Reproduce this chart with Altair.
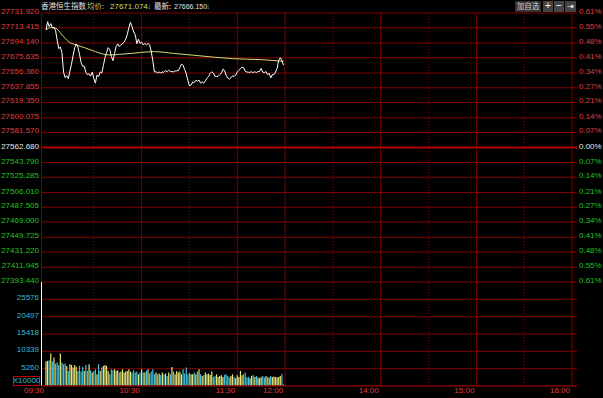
import altair as alt
import pandas as pd

# ---------------- data ----------------
BASE = 27562.68  # previous close (0.00%)

price_tick_labels = ["27731.920", "27713.415", "27694.140", "27675.635", "27656.360",
                     "27637.855", "27619.350", "27600.075", "27581.570", "27562.680",
                     "27543.790", "27525.285", "27506.010", "27487.505", "27469.000",
                     "27449.725", "27431.220", "27411.945", "27393.440"]
pct_tick_labels = ["0.61%", "0.55%", "0.48%", "0.41%", "0.34%", "0.27%", "0.21%", "0.14%",
                   "0.07%", "0.00%", "0.07%", "0.14%", "0.21%", "0.27%", "0.34%", "0.41%",
                   "0.48%", "0.55%", "0.61%"]
vol_tick_labels = ["25576", "20497", "15418", "10339", "5260"]
vol_axis_min, vol_axis_max = 181, 30655
vol_unit_label = "X10000"
time_tick_labels = ["09:30", "10:30", "11:30", "12:00", "14:00", "15:00", "16:00"]
half_hour_labels = ["10:00", "11:00", "13:30", "14:30", "15:30"]

title_name = "香港恒生指数"
avg_caption, avg_now = "均价:", "27671.074"
last_caption, last_now = "最新:", "27666.150"

# minutes after 09:30 (one per minute, morning session)
price_minute = list(range(150))
price_values = [
    27710.6, 27721.0, 27714.7, 27718.5, 27713.4, 27714.0, 27709.7, 27697.7, 27687.1, 27689.0,
    27682.0, 27657.5, 27650.6, 27653.1, 27649.4, 27658.8, 27667.6, 27678.6, 27688.3, 27693.0,
    27689.2, 27680.2, 27669.5, 27664.9, 27665.0, 27657.4, 27654.2, 27655.6, 27652.5, 27657.5,
    27649.7, 27643.7, 27654.0, 27651.9, 27657.8, 27656.3, 27665.7, 27675.8, 27682.0, 27688.3,
    27686.2, 27677.4, 27672.0, 27680.8, 27689.8, 27693.0, 27689.8, 27692.1, 27693.3, 27695.2,
    27699.0, 27705.0, 27713.7, 27720.1, 27714.7, 27708.0, 27704.6, 27693.3, 27699.0, 27693.7,
    27695.2, 27691.8, 27693.7, 27691.8, 27693.7, 27691.8, 27683.9, 27672.0, 27657.8, 27658.0,
    27656.4, 27657.7, 27656.4, 27657.7, 27657.2, 27659.4, 27658.2, 27660.0, 27658.2, 27658.3,
    27657.8, 27659.0, 27659.2, 27659.2, 27663.4, 27667.6, 27666.1, 27660.7, 27655.6, 27646.8,
    27640.3, 27641.2, 27645.1, 27644.5, 27647.2, 27646.0, 27647.5, 27643.6, 27645.4, 27643.6,
    27646.6, 27649.8, 27651.9, 27656.0, 27658.0, 27656.1, 27652.1, 27652.1, 27652.2, 27654.4,
    27656.1, 27661.2, 27659.5, 27653.7, 27650.1, 27648.6, 27650.4, 27652.8, 27651.9, 27653.9,
    27657.7, 27659.7, 27661.9, 27663.8, 27663.0, 27658.5, 27657.7, 27657.3, 27657.3, 27658.0,
    27656.9, 27658.0, 27657.0, 27658.2, 27658.2, 27662.1, 27657.5, 27656.9, 27658.2, 27654.4,
    27656.1, 27650.2, 27654.4, 27654.4, 27657.7, 27662.3, 27672.6, 27675.7, 27672.0, 27666.2]

avg_minute = [0, 3, 6, 10, 14, 19, 25, 31, 36, 40, 46, 54, 60, 68, 80, 92, 105, 117, 135, 149]
avg_values = [27710.6, 27713.4, 27712.8, 27704.6, 27695.9, 27691.7, 27687.7, 27683.3, 27680.1,
              27679.1, 27679.9, 27681.1, 27682.4, 27683.3, 27681.1, 27678.9, 27676.4, 27674.5,
              27673.2, 27671.1]

volume_values = [
    7340, 7540, 7730, 9690, 7340, 8520, 6750, 7050, 6360, 9690,
    7050, 6560, 6750, 6070, 4600, 6560, 6360, 5580, 6360, 5770,
    4600, 6070, 4400, 5770, 4600, 6360, 4600, 6560, 4800, 4110, 4600,
    5090, 3620, 6560, 4600, 5580, 6070, 6360, 6070, 4600, 3620,
    5090, 4800, 5090, 4600, 4800, 4110, 4400, 5090, 4110, 4400,
    4600, 5090, 4400, 4110, 4800, 4110, 4400, 3620, 4110, 5090, 4110,
    4110, 4600, 5090, 3820, 4400, 5090, 3620, 4110, 3620, 3820,
    3430, 4110, 3620, 3820, 3130, 4110, 3620, 5770, 4400, 3620,
    4600, 4110, 4400, 3620, 5090, 3820, 5580, 3620, 4110, 3620, 3620,
    4110, 3620, 4400, 5090, 3620, 3130, 3430, 4110, 3620, 3820,
    3430, 4400, 2840, 3130, 3620, 2840, 3130, 3330, 2840, 3430,
    3620, 3130, 2640, 3130, 3620, 2840, 2450, 3330, 2840, 4600, 3330,
    3620, 4110, 2640, 2840, 2450, 3130, 3430, 2840, 3130, 2640,
    2450, 2840, 3130, 2640, 3130, 2840, 2640, 3130, 2840, 2940, 2840,
    2640, 2840, 3130, 3620, 690]


def session_minutes(t):
    h, m = map(int, t.split(":"))
    v = h * 60 + m - (9 * 60 + 30)
    if v > 150:          # lunch break 12:00-13:00 removed
        v -= 60
    return v


# ---------------- styling ----------------
W, H1, H2 = 536, 269, 104
H = H1 + H2
GRID = "#800000"
CENTER = "#b00000"
RED_TXT = "#e83a3a"
GREEN_TXT = "#22c422"
WHITE_TXT = "#e8e8e8"
CYAN_TXT = "#3ab8d0"
YEL = "#e6e67a"
CYAN = "#40c4d8"
FONT = "Liberation Sans"
CJK = "Noto Sans CJK SC"

xs = alt.Scale(domain=[0, 330], nice=False, zero=False)
ys = alt.Scale(domain=[27393.44, 27731.92], range=[H1, 0], nice=False, zero=False)
vs = alt.Scale(domain=[vol_axis_min, vol_axis_max], range=[H, H1], nice=False, zero=False)

levels = pd.DataFrame({"label": price_tick_labels, "pct": pct_tick_labels})
levels["level"] = levels["label"].astype(float)

hours = pd.DataFrame({"t": time_tick_labels})
hours["m"] = hours["t"].map(session_minutes)
halves = pd.DataFrame({"t": half_hour_labels})
halves["m"] = halves["t"].map(session_minutes)

price_df = pd.DataFrame({"m": price_minute, "p": price_values})
avg_df = pd.DataFrame({"m": avg_minute, "p": avg_values})
vol_df = pd.DataFrame({"m": price_minute, "v": volume_values})
vol_df["dir"] = ["up" if i == 0 or price_values[i] >= price_values[i - 1] else "down"
                 for i in range(len(price_values))]
vticks = pd.DataFrame({"label": vol_tick_labels})
vticks["v"] = vticks["label"].astype(float)

color_expr = (f"datum.level > {BASE} + 0.01 ? '{RED_TXT}' : "
              f"(datum.level < {BASE} - 0.01 ? '{GREEN_TXT}' : '{WHITE_TXT}')")


def note(text, x, y, color, font=FONT, size=8, align="left"):
    return alt.Chart(pd.DataFrame({"t": [text]})).mark_text(
        align=align, baseline="middle", font=font, fontSize=size, color=color
    ).encode(x=alt.value(x), y=alt.value(y), text="t:N")


def box(x1, x2, y1, y2, fill):
    return alt.Chart(pd.DataFrame({"a": [0]})).mark_rect(color=fill).encode(
        x=alt.value(x1), x2=alt.value(x2), y=alt.value(y1), y2=alt.value(y2))


def vrule(x1, y1, y2, color, width=1):
    return alt.Chart(pd.DataFrame({"a": [0]})).mark_rule(color=color, strokeWidth=width).encode(
        x=alt.value(x1), y=alt.value(y1), y2=alt.value(y2))


# shared vertical grid (both panes)
vsolid = alt.Chart(hours).transform_filter("datum.m > 0").mark_rule(
    color=GRID, strokeWidth=1).encode(x=alt.X("m:Q", scale=xs, axis=None))
vdot = alt.Chart(halves).mark_rule(color=GRID, strokeWidth=1, strokeDash=[1, 2]).encode(
    x=alt.X("m:Q", scale=xs, axis=None))

# ---------------- price pane ----------------
hgrid = alt.Chart(levels).mark_rule(color=GRID, strokeWidth=1).encode(
    y=alt.Y("level:Q", scale=ys, axis=None))
center = alt.Chart(levels).transform_filter(
    f"abs(datum.level - {BASE}) < 0.01").mark_rule(color=CENTER, strokeWidth=2).encode(
    y=alt.Y("level:Q", scale=ys, axis=None))
avg_line = alt.Chart(avg_df).mark_line(color="#d8d870", strokeWidth=1, interpolate="monotone").encode(
    x=alt.X("m:Q", scale=xs, axis=None), y=alt.Y("p:Q", scale=ys, axis=None))
price_line = alt.Chart(price_df).mark_line(color="#ffffff", strokeWidth=1).encode(
    x=alt.X("m:Q", scale=xs, axis=None), y=alt.Y("p:Q", scale=ys, axis=None))
left_lbl = alt.Chart(levels).transform_calculate(col=color_expr).mark_text(
    align="right", baseline="middle", dx=-2, dy=-1, font=FONT, fontSize=8).encode(
    y=alt.Y("level:Q", scale=ys, axis=None), x=alt.value(0), text="label:N",
    color=alt.Color("col:N", scale=None))
right_lbl = alt.Chart(levels).transform_calculate(col=color_expr).mark_text(
    align="left", baseline="middle", dx=2, dy=-1, font=FONT, fontSize=8).encode(
    y=alt.Y("level:Q", scale=ys, axis=None), x=alt.value(W), text="pct:N",
    color=alt.Color("col:N", scale=None))

price_layer = alt.layer(hgrid, center, avg_line, price_line, left_lbl, right_lbl)

# ---------------- volume pane ----------------
vgrid = alt.Chart(vticks).mark_rule(color=GRID, strokeWidth=1).encode(
    y=alt.Y("v:Q", scale=vs, axis=None))
bars = alt.Chart(vol_df).mark_bar(size=1.2, clip=True).encode(
    x=alt.X("m:Q", scale=xs, axis=None),
    y=alt.Y("v:Q", scale=vs, axis=None),
    y2=alt.datum(vol_axis_min),
    color=alt.Color("dir:N", scale=alt.Scale(domain=["up", "down"], range=[YEL, CYAN]), legend=None))
vol_lbl = alt.Chart(vticks).mark_text(align="right", baseline="middle", dx=-2, dy=-1,
                                      font=FONT, fontSize=8, color=CYAN_TXT).encode(
    y=alt.Y("v:Q", scale=vs, axis=None), x=alt.value(0), text="label:N")

volume_layer = alt.layer(vgrid, bars, vol_lbl)

# ---------------- frame & decorations ----------------
bottom = alt.Chart(pd.DataFrame({"a": [0]})).mark_rule(color=GRID, strokeWidth=1.5).encode(
    y=alt.value(H), x=alt.value(0), x2=alt.value(W))
frame = [
    vrule(0.5, 0, H1, GRID),
    vrule(0.5, H1, H, "#ffffff"),
    bottom,
    box(-28, -1, H - 10, H, "#c00000"),
    box(-27, -2, H - 9, H - 1, "#000000"),
    note(vol_unit_label, -14.5, H - 5, CYAN_TXT, align="center"),
]
time_lbl = alt.Chart(hours).mark_text(align="right", baseline="middle", dx=-2,
                                      font=FONT, fontSize=8, color=RED_TXT).encode(
    x=alt.X("m:Q", scale=xs, axis=None), y=alt.value(H + 5), text="t:N")

HY = -6.5
header = [
    note(title_name, 0, HY, "#e0e0e0", font=CJK, size=7.5),
    note(avg_caption, 46, HY, "#c8c878", font=CJK, size=7.5),
    note(avg_now, 69, HY, "#d8d870"),
    note("↓", 106, HY, "#30c8e8"),
    note(last_caption, 113, HY, "#e0e0e0", font=CJK, size=7.5),
    note(last_now, 133, HY, "#e0e0e0", size=7),
    note("↓", 165, HY, "#30c8e8"),
    box(474, 500, -12, -1, "#333333"),
    note("加自选", 487, HY, "#d0d0d0", font=CJK, size=7.5, align="center"),
    box(502, 512, -12, -1, "#444444"),
    note("+", 507, HY - 0.5, "#ffffff", size=10, align="center"),
    box(513, 523, -12, -1, "#444444"),
    note("−", 518, HY - 0.5, "#ffffff", size=10, align="center"),
    box(524, 535, -12, -1, "#444444"),
    note("⇥", 529.5, HY, "#ffffff", font="DejaVu Sans", size=8, align="center"),
]

chart = alt.layer(
    vsolid, vdot, price_layer, volume_layer, *frame, time_lbl, *header
).resolve_scale(y="independent", color="independent").properties(
    width=W, height=H,
    background="#000000",
    padding={"left": 41, "top": 13, "right": 26, "bottom": 12},
    autosize=alt.AutoSizeParams(type="none"),
).configure_view(stroke=None)

chart.save("out.html", embed_options={"renderer": "svg", "actions": False})
